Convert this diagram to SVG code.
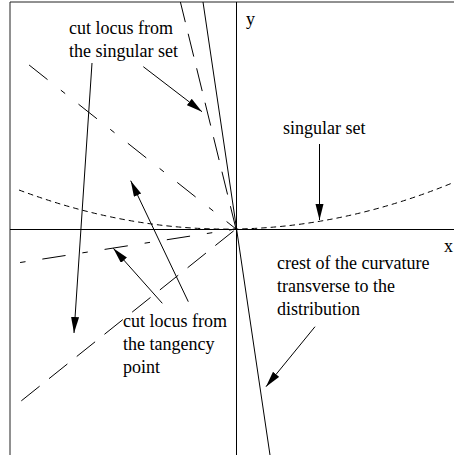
<svg xmlns="http://www.w3.org/2000/svg" width="454" height="455" viewBox="0 0 454 455">
<defs>
<style>
.ln{fill:none;stroke:#000;stroke-width:1}
.fr{fill:none;stroke:#222;stroke-width:1}
.ld{stroke-dasharray:23.5 12}
.dd{stroke-dasharray:23.5 17 5.5 17}
.sd{stroke-dasharray:5.5 4}
.ar{fill:none;stroke:#000;stroke-width:1;marker-end:url(#ah)}
text{font-family:"Liberation Serif","Times New Roman",serif;font-size:18px;fill:#000}
</style>
<marker id="ah" markerUnits="userSpaceOnUse" markerWidth="17" markerHeight="9" refX="16" refY="4" orient="auto">
<path d="M0,0 L16,4 L0,8 z" fill="#000"/>
</marker>
</defs>
<rect width="454" height="455" fill="#fff"/>
<g id="frame">
<path class="fr" d="M10,455 V2 H454"/>
</g>
<g id="axes">
<path class="ln" d="M236.5,2 V455"/>
<path class="ln" d="M10,229.5 H454"/>
<text x="246" y="25">y</text>
<text x="444" y="252">x</text>
</g>
<g id="curves">
<path id="crest" class="ln" d="M203,2 L270,455"/>
<path id="cut-singular" class="ln ld" d="M236,229 L180.4,2"/>
<path id="cut-tangency-1" class="ln dd" style="stroke-dashoffset:11.5" d="M236,229 L19,57"/>
<path id="cut-tangency-2" class="ln dd" style="stroke-dashoffset:16.5" d="M236,229 L19,262.7"/>
<path id="cut-tangency-3" class="ln ld" style="stroke-dashoffset:-3" d="M236,229 L19,402.7"/>
<path id="singular-set" class="ln sd" d="M19,190 Q236,271.7 453,182.7"/>
</g>
<g id="label-cut-singular">
<text x="69" y="34">cut locus from</text>
<text x="69" y="57">the singular set</text>
</g>
<g id="label-singular-set">
<text x="283" y="134">singular set</text>
</g>
<g id="label-cut-tangency">
<text x="123" y="327">cut locus from</text>
<text x="123" y="350">the tangency</text>
<text x="123" y="373">point</text>
</g>
<g id="label-crest">
<text x="277" y="269">crest of the curvature</text>
<text x="277" y="292">transverse to the</text>
<text x="277" y="315">distribution</text>
</g>
<g id="connectors">
<path class="ar" d="M143.3,66.7 L202,111.7"/>
<path class="ar" d="M92,63 L74,333"/>
<path class="ar" d="M319.5,144 V220"/>
<path class="ar" d="M162.3,303.3 L113.3,248.3"/>
<path class="ar" d="M188.3,301.7 L130.7,180.7"/>
<path class="ar" d="M315,326.7 L266,386.7"/>
</g>
</svg>
